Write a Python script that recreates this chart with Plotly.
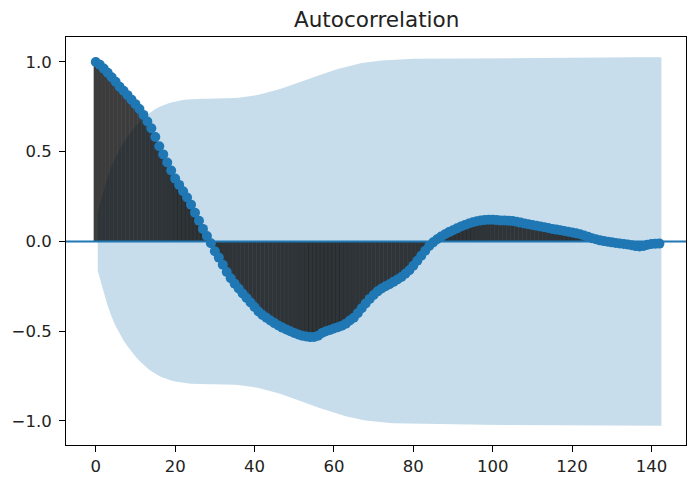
import numpy as np
import plotly.graph_objects as go

# ---- data ----
lags = list(range(0, 143))
acf_values = [
    1.000, 0.985, 0.963, 0.940, 0.915, 0.890, 0.862, 0.840, 0.815, 0.790,
    0.765, 0.738, 0.705, 0.668, 0.630, 0.582, 0.530, 0.485, 0.440, 0.395,
    0.350, 0.315, 0.280, 0.245, 0.205, 0.160, 0.115, 0.070, 0.030, -0.010,
    -0.055, -0.090, -0.130, -0.170, -0.205, -0.235, -0.262, -0.290, -0.315, -0.340,
    -0.365, -0.390, -0.410, -0.425, -0.440, -0.455, -0.468, -0.480, -0.490, -0.500,
    -0.510, -0.518, -0.525, -0.530, -0.533, -0.532, -0.525, -0.510, -0.500, -0.493,
    -0.485, -0.478, -0.470, -0.458, -0.440, -0.425, -0.400, -0.372, -0.345, -0.320,
    -0.298, -0.278, -0.262, -0.250, -0.238, -0.225, -0.212, -0.198, -0.180, -0.160,
    -0.135, -0.108, -0.080, -0.052, -0.025, -0.005, 0.012, 0.027, 0.040, 0.052,
    0.062, 0.073, 0.083, 0.092, 0.100, 0.107, 0.113, 0.117, 0.120, 0.121,
    0.121, 0.119, 0.117, 0.117, 0.116, 0.114, 0.110, 0.105, 0.100, 0.096,
    0.092, 0.088, 0.083, 0.079, 0.075, 0.070, 0.066, 0.062, 0.058, 0.054,
    0.050, 0.045, 0.040, 0.033, 0.026, 0.018, 0.012, 0.006, 0.002, -0.002,
    -0.005, -0.008, -0.011, -0.014, -0.017, -0.021, -0.026, -0.028, -0.025, -0.018,
    -0.014, -0.013, -0.012,
]
nobs = 143
x_ticks = [0, 20, 40, 60, 80, 100, 120, 140]
y_ticks = [-1.0, -0.5, 0.0, 0.5, 1.0]
y_tick_labels = ["\u22121.0", "\u22120.5", "0.0", "0.5", "1.0"]
title_text = "Autocorrelation"

# ---- Bartlett confidence band (as statsmodels computes it) ----
acf = np.array(acf_values)
varacf = np.ones_like(acf) / nobs
varacf[0] = 0
varacf[1] = 1.0 / nobs
varacf[2:] *= 1 + 2 * np.cumsum(acf[1:-1] ** 2)
band = 1.96 * np.sqrt(varacf)
band_lags = np.array(lags[1:], dtype=float)
band_lags[0] -= 0.5
band_lags[-1] += 0.5
band_vals = band[1:]

blue = "#1f77b4"
fig = go.Figure()

# confidence band
fig.add_trace(go.Scatter(
    x=np.concatenate([band_lags, band_lags[::-1]]),
    y=np.concatenate([band_vals, -band_vals[::-1]]),
    fill="toself", fillcolor="rgba(31,119,180,0.25)",
    line=dict(width=0), mode="lines", hoverinfo="skip", showlegend=False))

# stems
sx, sy = [], []
for lg, v in zip(lags, acf_values):
    sx += [lg, lg, None]
    sy += [0, v, None]
fig.add_trace(go.Scatter(x=sx, y=sy, mode="lines",
                         line=dict(color="rgba(0,0,0,0.765)", width=4.2),
                         hoverinfo="skip", showlegend=False))

# zero line
fig.add_trace(go.Scatter(x=[-8, 150], y=[0, 0], mode="lines",
                         line=dict(color=blue, width=2), hoverinfo="skip",
                         showlegend=False))

# markers
fig.add_trace(go.Scatter(x=lags, y=acf_values, mode="markers",
                         marker=dict(color=blue, size=10, line=dict(width=0)),
                         showlegend=False))

font_family = "DejaVu Sans"
tick_color = "#222222"
fig.update_layout(
    width=688, height=479,
    margin=dict(l=66, r=2, t=37, b=34),
    paper_bgcolor="white", plot_bgcolor="white",
    font=dict(family=font_family, size=16.5, color=tick_color),
    title=dict(text=title_text, x=0.5475, xanchor="center",
               y=1 - 19 / 479, yanchor="middle",
               font=dict(family=font_family, size=21.5, color=tick_color)),
    showlegend=False,
)
fig.update_xaxes(range=[-7.5, 148.7], tickvals=x_ticks,
                 ticktext=[str(t) for t in x_ticks], automargin=False,
                 showgrid=False, zeroline=False, showline=True, mirror=True,
                 linecolor="black", linewidth=1, ticks="outside", ticklen=6,
                 tickcolor="black", tickfont=dict(size=16.5, color=tick_color))
fig.update_yaxes(range=[-1.134, 1.139], tickvals=y_ticks, ticktext=y_tick_labels,
                 automargin=False, ticklabelstandoff=4,
                 showgrid=False, zeroline=False, showline=True, mirror=True,
                 linecolor="black", linewidth=1, ticks="outside", ticklen=6,
                 tickcolor="black", tickfont=dict(size=16.5, color=tick_color))

fig.write_html("out.html", config={"displayModeBar": False},
               post_script="document.body.style.margin='0';document.body.style.overflow='hidden';")
